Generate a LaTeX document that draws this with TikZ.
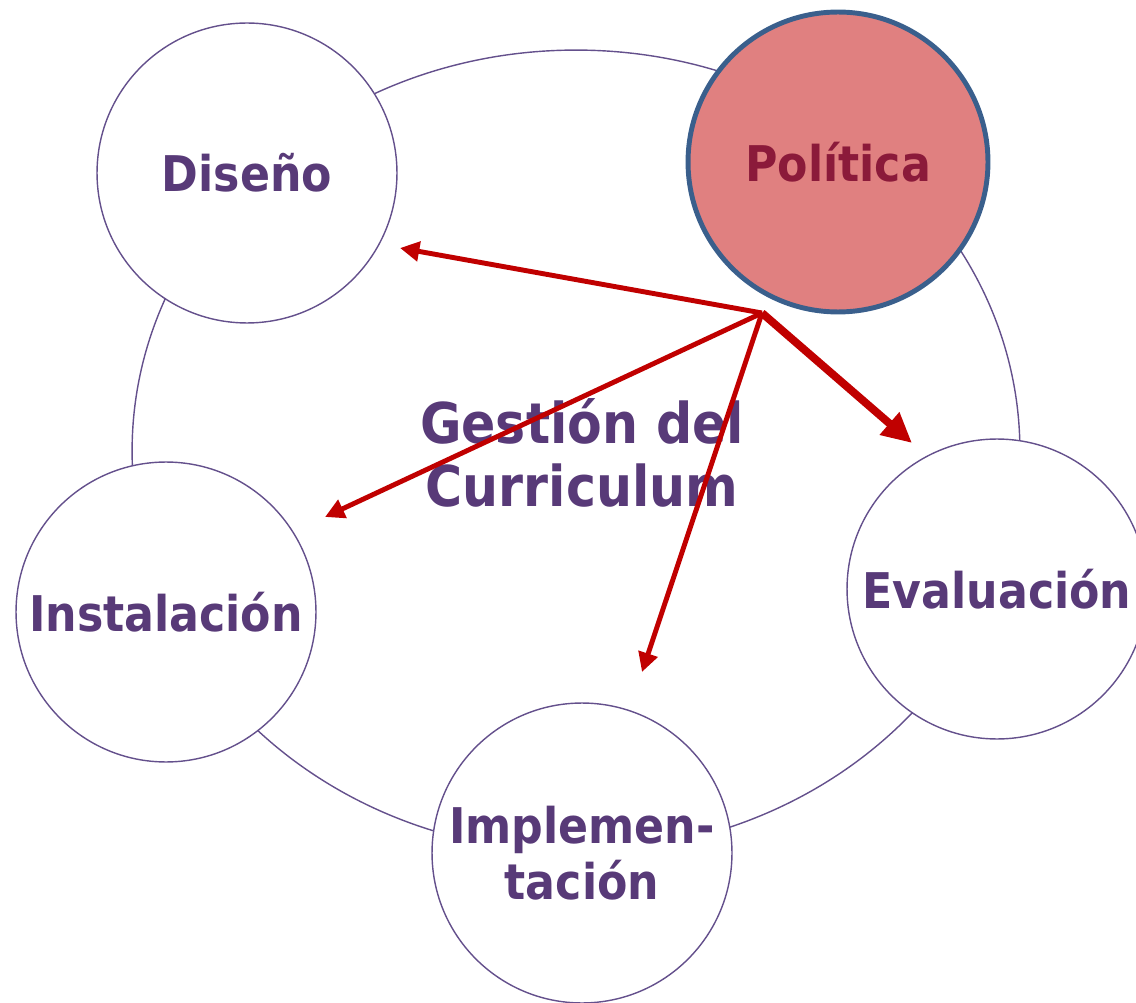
\documentclass[tikz,border=0pt]{standalone}
\usepackage{fontspec}
\setmainfont{DejaVu Sans}[FakeStretch=0.9]
\usetikzlibrary{arrows.meta}
\definecolor{lila}{RGB}{88,58,120}
\definecolor{lilaline}{RGB}{100,80,140}
\definecolor{rosa}{RGB}{224,128,128}
\definecolor{azul}{RGB}{58,95,140}
\definecolor{vino}{RGB}{139,26,58}
\definecolor{rojo}{RGB}{192,0,0}
\begin{document}
\begin{tikzpicture}[x=0.02cm, y=-0.02cm,
        etapa/.style={circle, draw=lilaline, line width=0.8pt, fill=white, minimum size=6cm, inner sep=0pt,
            align=center, text=lila, font=\fontsize{28}{32}\selectfont\bfseries},
        flecha/.style={draw=rojo, line width=2.8pt, -{Triangle[length=11pt, width=11pt]}}]
            \useasboundingbox (0,0) rectangle (1136,1003);
            \draw[lilaline, line width=0.8pt] (576,451) ellipse[x radius=8.88cm, y radius=8.02cm];
            \node[etapa] (disenyo) at (247,173) {Diseño};
            \node[etapa, fill=rosa, draw=azul, line width=2.8pt, text=vino] (politica) at (838,162) {Política};
            \node[etapa] (evaluacion) at (997,589) {Evaluación};
            \node[etapa] (implementacion) at (582,853) {Implemen-\\tación};
            \node[etapa] (instalacion) at (166,612) {Instalación};
            \node[text=lila, align=center, font=\fontsize{32}{36}\selectfont\bfseries] (gestion) at (582,453) {Gestión del\\Curriculum};
            \coordinate (hub) at (762,313);
            \coordinate (aDis) at (400,248);
            \coordinate (aIns) at (325,517);
            \coordinate (aImp) at (642,672);
            \coordinate (aEva) at (912,443);
            \draw[flecha] (hub) -- (aDis);
            \draw[flecha] (hub) -- (aIns);
            \draw[flecha] (hub) -- (aImp);
            \draw[flecha, line width=4.5pt, -{Triangle[length=17pt, width=16pt]}] (hub) -- (aEva);
        \end{tikzpicture}
\end{document}
